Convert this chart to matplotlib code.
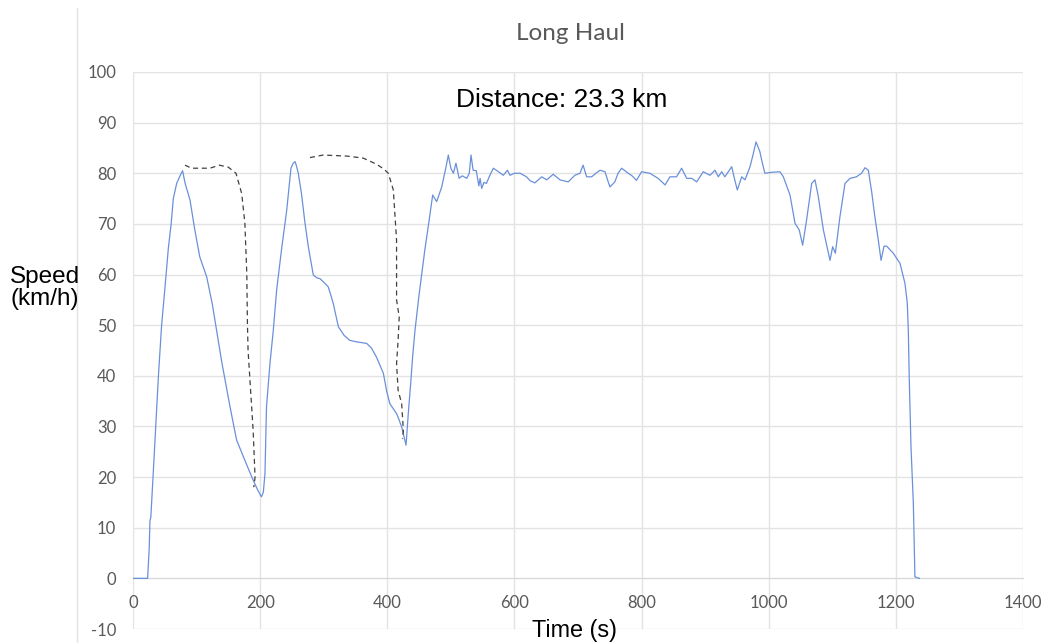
import matplotlib
matplotlib.use('Agg')
import matplotlib.pyplot as plt
from matplotlib.lines import Line2D

plt.rcParams['axes.unicode_minus'] = False

time_s = [0, 23, 25.5, 26.7, 28, 31.5, 37, 40, 45, 50, 55.6, 60, 63.4, 68.7, 74, 78, 82,
          89.7, 97, 105, 116, 125, 134, 139.5, 152.6, 163, 176, 189, 196, 202, 205, 207.6,
          210, 215.5, 220.7, 226, 233.9, 241.8, 248.5, 252, 255, 257, 260, 265, 270.6, 275.8,
          283.6, 290, 294, 300, 307, 311, 315, 323, 332, 341, 352, 367.6, 375, 383, 393.8,
          399, 404, 414.8, 418, 422.6, 429.5, 433, 436.8, 440, 443.6, 450, 459, 465, 471.4,
          477.7, 485.6, 492, 496, 500, 504, 508, 513, 518, 525, 529, 531.7, 535, 540, 544,
          546, 548.5, 552, 556, 561, 566.8, 575, 582.5, 589, 593, 600, 609, 619, 625, 632,
          643, 650.7, 661, 671.7, 684.7, 695, 703, 708, 713.6, 721.5, 728, 734.6, 742.5, 747,
          750.3, 758, 763, 768.7, 779, 785, 792, 800, 813, 826, 837, 844.7, 855, 863, 871,
          879, 886.7, 897, 907.6, 915.5, 920.7, 926, 931, 941.8, 946, 950.6, 957.5, 962.7,
          970.6, 976, 980, 986, 990, 994, 1005, 1017.8, 1023, 1033.5, 1041.4, 1048, 1053.4,
          1059.6, 1067.6, 1072.8, 1078, 1086, 1096.4, 1100.6, 1104.8, 1112, 1120, 1128, 1138,
          1146, 1151.5, 1156.7, 1162, 1167, 1172.4, 1176.7, 1181.4, 1185.6, 1196, 1206.6,
          1214.4, 1218, 1219.6, 1221, 1223.8, 1227.5, 1230, 1237]
speed = [0, 0, 6, 11.5, 12, 20, 33, 40, 50, 57, 65.2, 70, 75, 78, 79.5, 80.5, 78,
         74.7, 69, 63.5, 59.5, 54, 47, 42.8, 33.9, 27.3, 23.3, 19.4, 17.5, 16.1, 17, 20.7,
         33.9, 42.5, 49, 57, 65.2, 72.7, 81, 82, 82.3, 81.5, 80, 76, 70.1, 65.5,
         59.9, 59.3, 59.2, 58.5, 57.6, 56, 54.3, 49.7, 48, 47, 46.7, 46.4, 45.5, 43.7, 40.5,
         37, 34.5, 32.5, 31.5, 29.9, 26.3, 32.5, 38.5, 44, 49, 56, 64.8, 70, 75.7,
         74.4, 77.3, 81, 83.6, 81, 80, 82, 79, 79.5, 79, 80, 83.6, 80.6, 80.5, 77.5,
         79, 77, 78.2, 78, 79.5, 81, 80.3, 79.6, 80.6, 79.6, 80, 80, 79.3, 78.5, 78.1,
         79.3, 78.7, 79.8, 78.7, 78.3, 79.6, 80, 81.6, 79.3, 79.3, 80, 80.6, 80.3, 78.5,
         77.3, 78.3, 80, 81, 80, 79.5, 78.6, 80.3, 80, 79, 77.7, 79.3, 79.3, 81, 79,
         79, 78.3, 80.3, 79.6, 80.6, 79.3, 80.3, 79.3, 81.3, 79, 76.7, 79.3, 78.7,
         81.3, 84, 86.2, 84.3, 82, 80, 80.2, 80.3, 79.3, 75.7, 70.1, 68.8, 65.8,
         70.8, 78, 78.7, 75.4, 68.8, 62.8, 65.5, 64.2, 71.4, 78, 79, 79.3,
         80, 81.1, 80.6, 76.3, 71.4, 66.8, 62.8, 65.6, 65.6, 64.2, 62.2,
         58.2, 54.3, 49, 39.8, 26, 14.8, 0.3, 0]

# dashed "ideal" segments
ideal1_t = [81.8, 92, 121, 135.8, 150, 162, 171, 176, 179, 180, 181, 184, 189, 192, 190]
ideal1_v = [81.6, 81, 81, 81.6, 81.2, 80, 76, 70.1, 60.2, 50.3, 45, 39.1, 29.2, 20, 18]
ideal2_t = [278.4, 299, 336, 362, 383, 395, 401.6, 409.5, 414.6, 414.6, 418.8, 417, 414.6,
            417, 422.6, 425.3, 424]
ideal2_v = [83.1, 83.6, 83.4, 83, 81.8, 80.8, 80, 76.7, 66.8, 55, 51.6, 47, 42.4,
            37.2, 34.5, 29.2, 27.5]

W, H = 1046, 643
fig = plt.figure(figsize=(W / 100, H / 100), dpi=100)
ax = fig.add_axes([133 / W, 1 - 629 / H, (1023 - 133) / W, (629 - 72) / H])

ax.plot(time_s, speed, color='#6a90da', lw=0.9, zorder=3)
ax.plot(ideal1_t, ideal1_v, color='#404040', lw=0.9, dashes=(4, 3), zorder=3)
ax.plot(ideal2_t, ideal2_v, color='#404040', lw=0.9, dashes=(4, 3), zorder=3)

ax.set_xlim(0, 1400)
ax.set_ylim(-10, 100)
ax.set_xticks(range(0, 1401, 200))
ax.set_yticks(range(-10, 101, 10))
ax.grid(True, color='#e3e3e3', lw=1)
ax.set_axisbelow(True)
for s in ['top', 'right', 'left']:
    ax.spines[s].set_visible(False)
ax.spines['bottom'].set_position(('data', 0))
ax.spines['bottom'].set_color('#d9d9d9')
ax.tick_params(length=0, labelsize=12, labelcolor='#595959')
for lab in ax.get_xticklabels() + ax.get_yticklabels():
    lab.set_family('Lato')
ax.tick_params(axis='x', pad=12)
ax.tick_params(axis='y', pad=12)

# chart-area edge on the left
fig.add_artist(Line2D([77 / W, 77 / W], [0, 1 - 8 / H], color='#e3e3e3', lw=1))

fig.text(570 / W, 1 - 33 / H, 'Long Haul', ha='center', va='center',
         fontsize=17.5, color='#595959', family='Lato')
fig.text(562 / W, 1 - 100 / H, 'Distance: 23.3 km', ha='center', va='center',
         fontsize=19, family='Liberation Sans')
fig.text(45 / W, 1 - 288 / H, 'Speed\n(km/h)', ha='center', va='center',
         fontsize=17.5, family='Liberation Sans', linespacing=1.0)
fig.text(574 / W, 1 - 631 / H, 'Time (s)', ha='center', va='center',
         fontsize=16.8, family='Liberation Sans')

fig.savefig('out.png', dpi=100)
